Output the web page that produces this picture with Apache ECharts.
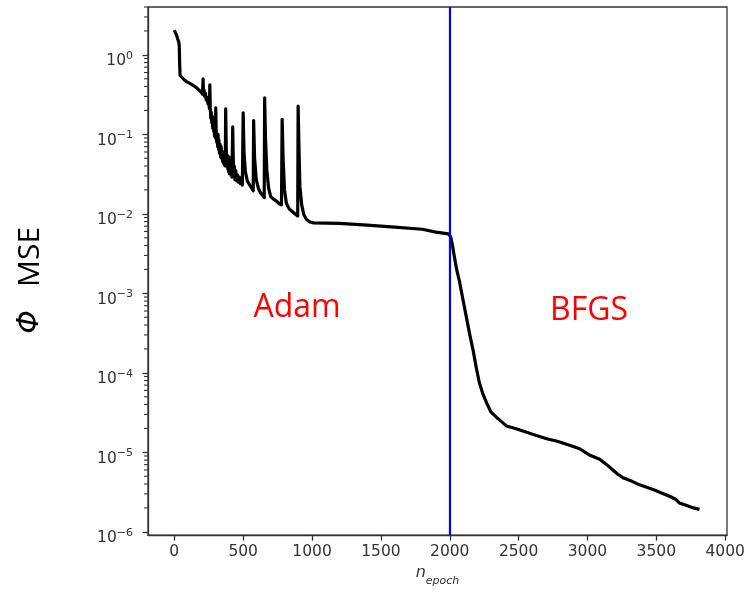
<!DOCTYPE html>
<html>
<head>
<meta charset="utf-8">
<script src="https://cdn.jsdelivr.net/npm/echarts@6/dist/echarts.min.js"></script>
<style>
html,body{margin:0;padding:0;background:#fff;}
#chart{width:748px;height:592px;}
</style>
</head>
<body>
<div id="chart"></div>
<script>
// ---- data ----
const epochs = [
  0, 8, 16, 24, 32, 36, 39, 42, 50, 70, 89, 110, 130, 149, 165, 180, 195, 205,
  209, 212, 216, 220, 226, 232, 238, 245, 250, 255, 258, 261, 265, 268, 272, 275, 279, 282, 286, 288, 292, 295, 299,
  301, 304, 308, 312, 315, 318, 321, 324, 328, 332, 336, 340, 343, 346, 350, 354, 358, 362, 365, 368,
  370, 373, 377, 380, 384, 388, 391, 394, 397, 400, 405, 410, 415, 419,
  421, 424, 428, 432, 436, 440, 446, 452, 458, 465, 472, 480, 487, 494,
  497, 500, 506, 516, 530, 548, 562, 571,
  573, 576, 583, 595, 610, 625, 640, 651,
  653, 656, 662, 672, 685, 700, 720, 742, 760, 778,
  780, 783, 790, 800, 814, 835, 862, 880, 894,
  896, 899, 905, 912, 925, 940, 960, 985, 1010, 1200, 1400, 1600, 1800, 1900, 1990,
  2000, 2006, 2012, 2020, 2032, 2050, 2071, 2095, 2120, 2144, 2170, 2193, 2215, 2241,
  2270, 2300, 2340, 2380, 2411, 2470, 2531, 2590, 2652, 2710, 2774, 2820, 2870, 2943,
  3010, 3088, 3140, 3184, 3220, 3257, 3320, 3378, 3440, 3499, 3550, 3596, 3640, 3668,
  3720, 3770, 3813
];
const mse = [
  2.05, 1.9, 1.78, 1.6, 1.45, 1.3, 0.75, 0.55, 0.52, 0.49, 0.46, 0.44, 0.42, 0.40, 0.38, 0.36, 0.34, 0.32,
  0.50, 0.33, 0.36, 0.30, 0.33, 0.27, 0.29, 0.24, 0.26, 0.21, 0.42, 0.22, 0.16, 0.19, 0.14, 0.17, 0.12, 0.16, 0.11, 0.13, 0.095, 0.12, 0.09,
  0.216, 0.11, 0.08, 0.10, 0.07, 0.10, 0.065, 0.085, 0.058, 0.075, 0.052, 0.07, 0.05, 0.062, 0.046, 0.058, 0.043, 0.055, 0.041, 0.05, 0.04,
  0.21, 0.07, 0.042, 0.055, 0.037, 0.05, 0.034, 0.052, 0.032, 0.045, 0.031, 0.04, 0.029, 0.03,
  0.124, 0.05, 0.03, 0.04, 0.027, 0.035, 0.026, 0.031, 0.025, 0.029, 0.024, 0.026, 0.023, 0.024,
  0.187, 0.06, 0.034, 0.026, 0.023, 0.021, 0.020, 0.0195,
  0.149, 0.05, 0.027, 0.021, 0.0185, 0.0172, 0.0166, 0.016,
  0.287, 0.09, 0.035, 0.021, 0.0165, 0.0153, 0.0145, 0.0135, 0.013, 0.0125,
  0.155, 0.05, 0.02, 0.0135, 0.0115, 0.0105, 0.0099, 0.0096, 0.0094,
  0.227, 0.07, 0.022, 0.013, 0.0098, 0.0085, 0.0079, 0.0077, 0.0076, 0.0072, 0.0068, 0.0064, 0.0059, 0.0056, 0.0053,
  0.0052, 0.0050, 0.0040, 0.0030, 0.0020, 0.0014, 8.5e-4, 5.1e-4, 3.1e-4, 1.9e-4, 1.15e-4, 7.5e-5, 5.4e-5, 4.1e-5,
  3.2e-5, 2.75e-5, 2.4e-5, 2.15e-5, 2.01e-5, 1.85e-5, 1.71e-5, 1.58e-5, 1.47e-5, 1.39e-5, 1.31e-5, 1.23e-5, 1.11e-5, 9.35e-6,
  8.2e-6, 7.0e-6, 6.0e-6, 5.3e-6, 4.8e-6, 4.35e-6, 3.9e-6, 3.59e-6, 3.28e-6, 3.02e-6, 2.8e-6, 2.57e-6, 2.3e-6, 2.14e-6,
  2.0e-6, 1.92e-6, 1.84e-6
];
const switchEpoch = 2000;
const xTicks = [0, 500, 1000, 1500, 2000, 2500, 3000, 3500, 4000];
const yMajorTicks = [1e-6, 1e-5, 1e-4, 1e-3, 1e-2, 1e-1, 1];
const xRange = [-191, 4013];
const yRange = [9.1e-7, 4.0];
const annotations = ['Adam', 'BFGS'];
const yTitle = ['Φ', 'MSE'];

// minor ticks 2..9 x 10^n within the range
const yMinorTicks = [];
for (let e = -7; e <= 0; e++) {
  for (let m = 2; m <= 9; m++) {
    const v = m * Math.pow(10, e);
    if (v >= yRange[0] && v <= yRange[1]) yMinorTicks.push(v);
  }
}

const AX = '#333';
const chart = echarts.init(document.getElementById('chart'), null, {renderer: 'canvas'});

function supLabel(v) {
  const e = Math.round(Math.log10(v));
  const s = e < 0 ? '\u2212' + (-e) : String(e);
  return '{b|10}{s|' + s + '}';
}

chart.setOption({
  animation: false,
  backgroundColor: '#fff',
  grid: {
    left: 148, right: 21, top: 7, bottom: 52,
    show: true, borderColor: AX, borderWidth: 1.3, backgroundColor: 'transparent'
  },
  xAxis: {
    type: 'value',
    min: xRange[0], max: xRange[1],
    splitLine: {show: false},
    axisLine: {show: true, onZero: false, lineStyle: {color: AX, width: 1.3}},
    axisTick: {show: true, length: 5.5, lineStyle: {color: AX, width: 1.3}, customValues: xTicks},
    axisLabel: {
      customValues: xTicks, margin: 9, color: AX,
      fontFamily: 'DejaVu Sans', fontSize: 15.5,
      formatter: v => String(v)
    },
    name: '{n|n}{s|epoch}',
    nameLocation: 'middle',
    nameGap: 27,
    nameTextStyle: {
      rich: {
        n: {fontFamily: 'DejaVu Sans', fontStyle: 'italic', fontSize: 16, color: AX, lineHeight: 16, verticalAlign: 'top'},
        s: {fontFamily: 'DejaVu Sans', fontStyle: 'italic', fontSize: 11, color: AX, lineHeight: 22, verticalAlign: 'bottom'}
      }
    }
  },
  yAxis: {
    type: 'log',
    min: yRange[0], max: yRange[1],
    splitLine: {show: false},
    axisLine: {show: true, onZero: false, lineStyle: {color: AX, width: 1.3}},
    axisTick: {show: true, length: 5.5, lineStyle: {color: AX, width: 1.3}, customValues: yMajorTicks},
    axisLabel: {
      customValues: yMajorTicks,
      margin: 15,
      padding: [10, 0, 0, 0],
      formatter: supLabel,
      rich: {
        b: {fontFamily: 'DejaVu Sans', fontSize: 15.5, color: AX, lineHeight: 19, verticalAlign: 'bottom'},
        s: {fontFamily: 'DejaVu Sans', fontSize: 11, color: AX, lineHeight: 11, verticalAlign: 'top'}
      }
    }
  },
  graphic: [
    {type: 'text', x: 30, y: 322, rotation: Math.PI / 2, z: 10,
     style: {text: yTitle[0], font: 'italic 30px "DejaVu Sans"', fill: '#000', align: 'center', verticalAlign: 'middle'}},
    {type: 'text', x: 30, y: 257, rotation: Math.PI / 2, z: 10,
     style: {text: yTitle[1], font: '30px "Open Sans"', fill: '#000', align: 'center', verticalAlign: 'middle'}},
    {type: 'text', x: 297, y: 308, z: 10,
     style: {text: annotations[0], font: '32px "Open Sans"', fill: '#ff0000', align: 'center', verticalAlign: 'middle'}},
    {type: 'text', x: 589, y: 311, z: 10,
     style: {text: annotations[1], font: '32px "Open Sans"', fill: '#ff0000', align: 'center', verticalAlign: 'middle'}}
  ],
  series: [{
    type: 'line',
    data: [],
    z: 1,
    markLine: {
      silent: true,
      symbol: ['none', 'none'],
      label: {show: false},
      lineStyle: {color: '#0000ff', width: 2.2, type: 'solid'},
      data: [{xAxis: switchEpoch}]
    }
  }, {
    type: 'line',
    z: 3,
    data: epochs.map((e, i) => [e, mse[i]]),
    showSymbol: false,
    symbol: 'none',
    sampling: null,
    lineStyle: {color: '#000', width: 3.2, join: 'round'}
  }, {
    // minor log ticks on the left axis, placed through the axis scale
    type: 'custom',
    silent: true,
    clip: false,
    z: 5,
    data: yMinorTicks.map(v => [xRange[0], v]),
    renderItem: function (params, api) {
      const p = api.coord([api.value(0), api.value(1)]);
      return {
        type: 'line',
        shape: {x1: p[0] - 4, y1: p[1], x2: p[0], y2: p[1]},
        style: {stroke: AX, lineWidth: 1.1}
      };
    }
  }]
});
</script>
</body>
</html>
